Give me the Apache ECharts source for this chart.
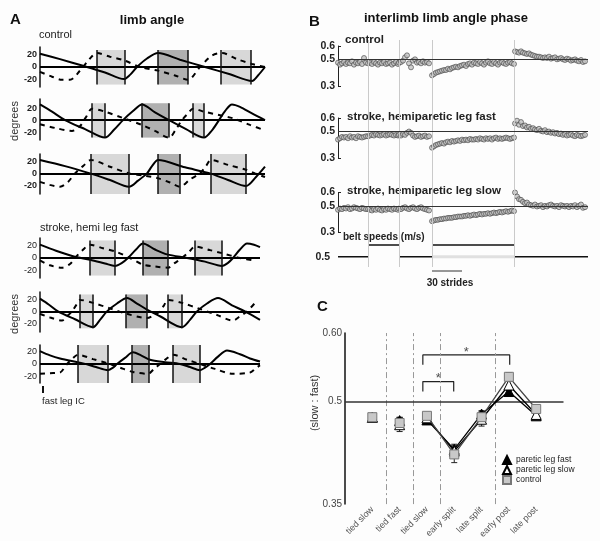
<!DOCTYPE html>
<html><head><meta charset="utf-8">
<script src="https://cdn.jsdelivr.net/npm/echarts@6.0.0/dist/echarts.min.js"></script>
<style>html,body{margin:0;padding:0;background:#fdfdfd}#c{width:600px;height:541px}</style>
</head><body><div id="c"></div>
<script>
// ================= DATA =================
// ---- Panel A: limb angle traces [time sample, degrees]; solid = one leg, dashed = other leg
const ctl1Solid  = [[40,22],[60,13],[83,2],[105,-9],[124,-20],[130,-13],[137,0],[147,14],[158,23],[180,12],[205,0],[230,-12],[252,-23],[258,-14],[265,0]];
const ctl1Dashed = [[40,-8],[52,-16],[62,-21],[70,-21],[80,-6],[90,14],[97,23],[110,17],[124,11],[140,0],[158,-6],[175,-14],[188,-21],[200,0],[212,19],[222,23],[237,13],[252,5],[265,0]];
const ctl2Solid  = [[40,26],[52,14],[65,0],[85,-15],[105,-29],[114,-16],[123,0],[133,15],[142,26],[155,13],[169,0],[186,-15],[204,-29],[212,-17],[219,0],[225,15],[232,26],[240,22],[252,11],[265,0]];
const ctl2Dashed = [[40,-7],[55,-13],[72,-18],[80,-10],[86,5],[92,19],[105,14],[122,4],[142,-8],[155,-18],[169,-29],[176,-15],[182,0],[188,11],[193,19],[204,14],[220,8],[233,3],[250,-8],[265,-17]];
const ctl3Solid  = [[40,22],[65,12],[90,0],[110,-11],[129,-22],[138,-12],[147,0],[152,12],[158,22],[185,10],[210,0],[228,-11],[246,-21],[256,-6],[265,11]];
const ctl3Dashed = [[40,-14],[50,-19],[60,-22],[68,-14],[75,0],[83,12],[91,22],[110,11],[129,0],[145,-4],[158,-8],[170,-15],[180,-22],[190,-10],[200,0],[206,12],[211,22],[228,14],[246,6],[255,0],[265,-6]];
const stk1Solid  = [[40,22],[56,12],[73,3],[90,-3],[105,-9],[115,-13],[122,-8],[128,0],[136,14],[143,24],[155,14],[167,6],[187,0],[205,-6],[222,-13],[228,-8],[233,0],[240,14],[247,24],[254,22],[260,18]];
const stk1Dashed = [[40,-4],[50,-12],[62,-16],[70,-10],[75,0],[82,12],[90,22],[103,16],[115,11],[130,0],[143,-11],[155,-14],[168,-16],[175,-8],[182,0],[189,10],[195,19],[210,13],[222,8],[240,0],[255,-4]];
const stk2Solid  = [[40,21],[49,11],[58,0],[75,-13],[93,-26],[100,-14],[107,0],[117,13],[127,22],[137,13],[147,3],[160,-8],[182,-26],[190,-14],[197,0],[207,13],[218,22],[232,10],[245,0],[260,-14]];
const stk2Dashed = [[40,-4],[50,-10],[62,-15],[67,-8],[72,0],[76,10],[80,19],[93,14],[110,5],[127,-4],[147,-11],[154,-6],[160,0],[164,10],[168,19],[182,14],[200,4],[217,-6],[233,-15],[240,-8],[247,0],[255,14]];
const stk3Solid  = [[40,21],[50,14],[60,9],[83,1],[96,-5],[108,-10],[113,-6],[117,0],[125,10],[133,19],[141,14],[150,7],[165,3],[180,0],[190,-5],[200,-10],[205,-6],[210,0],[218,12],[227,22],[240,16],[250,9],[260,4]];
const stk3Dashed = [[40,-16],[50,-15],[60,-14],[64,-7],[67,0],[72,8],[78,15],[93,8],[108,1],[120,-6],[133,-13],[148,-16],[154,-8],[160,0],[166,8],[173,15],[187,7],[200,0],[215,-8],[233,-16],[250,-14],[255,-8],[260,-2]];
// stance intervals [start, end] (the middle one is the other leg)
const ctl1Stance = [[97,125],[158,188],[221,251]];
const ctl2Stance = [[92,105],[142,169],[193,204]];
const ctl3Stance = [[91,129],[158,180],[211,246]];
const stk1Stance = [[90,115],[143,168],[195,222]];
const stk2Stance = [[80,93],[126,147],[168,182]];
const stk3Stance = [[78,108],[132,149],[173,200]];
const A_TICKS = [-20, 0, 20];

// ---- Panel B: interlimb phase per stride, 5 segments (tied slow, tied fast, tied slow, split, post)
const B_SEG_START = [0, 30, 61, 94, 177];
const B_BOUNDS = [0, 30, 61.5, 94, 176.5, 250];
const ctlPhase = [
 [0.475,0.46,0.47,0.48,0.465,0.475,0.47,0.485,0.46,0.475,0.47,0.48,0.465,0.51,0.475],
 [0.47,0.475,0.465,0.48,0.47,0.46,0.475,0.47,0.48,0.465,0.47,0.475,0.46,0.47,0.48,0.465],
 [0.475,0.48,0.49,0.515,0.53,0.47,0.44,0.49,0.5,0.475,0.48,0.47,0.485,0.475,0.48,0.47],
 [0.38,0.39,0.40,0.405,0.41,0.415,0.42,0.42,0.43,0.425,0.435,0.44,0.445,0.44,0.45,0.455,0.46,0.45,0.465,0.47,0.46,0.475,0.47,0.465,0.48,0.47,0.46,0.475,0.485,0.47,0.465,0.48,0.47,0.46,0.475,0.48,0.47,0.465,0.475,0.48,0.47,0.465],
 [0.56,0.555,0.55,0.56,0.55,0.545,0.54,0.545,0.535,0.53,0.525,0.52,0.52,0.515,0.51,0.515,0.51,0.52,0.505,0.51,0.515,0.5,0.505,0.51,0.5,0.495,0.505,0.5,0.49,0.495,0.5,0.49,0.485,0.495,0.48,0.485]
];
const fastPhase = [
 [0.44,0.45,0.46,0.455,0.46,0.45,0.465,0.455,0.46,0.45,0.465,0.46,0.455,0.46,0.465],
 [0.465,0.47,0.475,0.47,0.48,0.475,0.47,0.475,0.48,0.47,0.475,0.48,0.475,0.47,0.475,0.47],
 [0.475,0.47,0.48,0.475,0.49,0.5,0.49,0.47,0.46,0.465,0.47,0.46,0.465,0.47,0.46,0.465],
 [0.38,0.39,0.40,0.405,0.41,0.415,0.41,0.42,0.425,0.42,0.43,0.425,0.43,0.435,0.43,0.44,0.435,0.44,0.435,0.445,0.44,0.44,0.445,0.44,0.45,0.445,0.44,0.45,0.445,0.45,0.44,0.45,0.455,0.445,0.45,0.445,0.45,0.455,0.45,0.445,0.45,0.455],
 [0.56,0.58,0.55,0.57,0.54,0.545,0.53,0.535,0.52,0.525,0.515,0.51,0.52,0.505,0.5,0.51,0.495,0.5,0.49,0.495,0.485,0.49,0.48,0.485,0.475,0.48,0.47,0.475,0.48,0.47,0.465,0.475,0.47,0.465,0.47,0.475]
];
const slowPhase = [
 [0.47,0.48,0.475,0.485,0.48,0.49,0.475,0.48,0.49,0.485,0.48,0.475,0.485,0.48,0.475],
 [0.475,0.47,0.465,0.475,0.47,0.48,0.47,0.465,0.475,0.47,0.48,0.475,0.47,0.48,0.475,0.47],
 [0.48,0.475,0.485,0.49,0.48,0.475,0.485,0.49,0.48,0.475,0.485,0.49,0.48,0.475,0.47,0.465],
 [0.385,0.39,0.395,0.395,0.40,0.40,0.405,0.405,0.41,0.41,0.41,0.415,0.415,0.42,0.42,0.42,0.425,0.425,0.43,0.425,0.43,0.435,0.43,0.435,0.44,0.435,0.44,0.44,0.445,0.44,0.445,0.45,0.445,0.45,0.455,0.45,0.455,0.46,0.455,0.46,0.465,0.46],
 [0.60,0.57,0.55,0.545,0.53,0.52,0.525,0.51,0.505,0.5,0.51,0.495,0.5,0.505,0.49,0.5,0.495,0.505,0.51,0.5,0.495,0.5,0.49,0.505,0.5,0.495,0.5,0.49,0.5,0.495,0.505,0.49,0.5,0.51,0.485,0.49]
];
const beltFast = [0.5, 1.0, 0.5, 1.0, 0.5];
const beltSlow = [0.5, 1.0, 0.5, 0.5, 0.5];
const B_YTICKS = [0.3, 0.5, 0.6];
const STRIDE_BAR = [94, 124]; // 30 strides

// ---- Panel C: mean phase (slow : fast) per epoch
const C_CATS = ['tied slow','tied fast','tied slow','early split','late split','early post','late post'];
const C_X = [1,2,3,4,5,6,7];
const cFastVals = [0.477,0.472,0.473,0.430,0.4816,0.5145,0.479];
const cSlowVals = [0.477,0.466,0.476,0.4275,0.474,0.524,0.481];
const cCtlVals  = [0.477,0.4685,0.479,0.4226,0.477,0.536,0.489];
const cFastErr = [0.004,0.005,0.004,0.006,0.005,0.006,0.004];
const cSlowErr = [0.005,0.010,0.005,0.010,0.010,0.008,0.005];
const cCtlErr  = [0.005,0.008,0.004,0.012,0.008,0.006,0.004];
const C_YTICKS = [0.35, 0.5, 0.6];
const C_YLABELS = ['0.35', '0.5', '0.60'];
const C_SIG = [[2.85, 6.03, 0.568], [2.85, 3.98, 0.529]]; // [from, to, height]
const C_DIVIDERS = [1.5, 2.5, 3.5, 5.5];

// ================= LAYOUT / STYLE =================
const FONT = "'Liberation Sans', Arial, sans-serif";
const LIGHT = '#d8d8d8', DARK = '#b0b0b0';
const A_LAYOUT = [
 {top:47,  h:40, ymin:-33, ymax:33, xmax:265, bold:true,  lo:-29, hi:28},
 {top:99,  h:41, ymin:-33, ymax:35, xmax:265, bold:true,  lo:-29, hi:28},
 {top:154, h:40, ymin:-34, ymax:32, xmax:265, bold:true,  lo:-34, hi:32},
 {top:238, h:40, ymin:-33, ymax:33, xmax:260, bold:false, lo:-29, hi:29},
 {top:292, h:40, ymin:-34, ymax:32, xmax:260, bold:false, lo:-28, hi:28},
 {top:345, h:38, ymin:-31, ymax:31, xmax:260, bold:false, lo:-31, hi:31}
];
const A_DATA = [
 {solid:ctl1Solid, dashed:ctl1Dashed, stance:ctl1Stance},
 {solid:ctl2Solid, dashed:ctl2Dashed, stance:ctl2Stance},
 {solid:ctl3Solid, dashed:ctl3Dashed, stance:ctl3Stance},
 {solid:stk1Solid, dashed:stk1Dashed, stance:stk1Stance},
 {solid:stk2Solid, dashed:stk2Dashed, stance:stk2Stance},
 {solid:stk3Solid, dashed:stk3Dashed, stance:stk3Stance}
];
const B_ROWS = [
 {data:ctlPhase,  top:46,    h:40},
 {data:fastPhase, top:118,   h:40.5},
 {data:slowPhase, top:192.5, h:40}
];

const grid = [], xAxis = [], yAxis = [], series = [];
function addGrid(g, xa, ya) {
  const i = grid.length;
  grid.push(g);
  xAxis.push(Object.assign({gridIndex:i}, xa));
  yAxis.push(Object.assign({gridIndex:i}, ya));
  return i;
}
const ML = {silent:true, symbol:['none','none'], label:{show:false}, animation:false};

// ---- Panel A
A_DATA.forEach((d, k) => {
  const L = A_LAYOUT[k];
  const gi = addGrid({left:40, top:L.top, width:L.xmax-40, height:L.h},
    {type:'value', min:40, max:L.xmax, show:false},
    {type:'value', min:L.ymin, max:L.ymax,
     axisLine:{show:true, lineStyle:{color:'#111', width:1.5}}, axisTick:{show:false}, splitLine:{show:false},
     axisLabel:{customValues:A_TICKS, fontSize:9, fontWeight:L.bold?'bold':'normal', color:'#222', margin:3, fontFamily:FONT}});
  series.push({type:'line', xAxisIndex:gi, yAxisIndex:gi, data:d.solid, symbol:'none', lineStyle:{opacity:0}, z:1, silent:true,
    markArea:{silent:true, animation:false, data:d.stance.map((s,i)=>[{coord:[s[0],L.hi], itemStyle:{color:i===1?DARK:LIGHT}},{coord:[s[1],L.lo]}])}});
  const edges = [];
  d.stance.forEach(s => { edges.push([{coord:[s[0],L.lo]},{coord:[s[0],L.hi]}]); edges.push([{coord:[s[1],L.lo]},{coord:[s[1],L.hi]}]); });
  series.push({type:'line', xAxisIndex:gi, yAxisIndex:gi, data:d.solid, smooth:0.3, symbol:'none', z:3, silent:true,
    lineStyle:{color:'#000', width:2},
    markLine:Object.assign({}, ML, {lineStyle:{color:'#111', width:1.5, type:'solid'}, data:[{yAxis:0, lineStyle:{width:2, color:'#000'}}].concat(edges)})});
  series.push({type:'line', xAxisIndex:gi, yAxisIndex:gi, data:d.dashed, smooth:0.3, symbol:'none', z:4, silent:true,
    lineStyle:{color:'#000', width:2, type:[5,5]}});
});

// ---- Panel B
const frame = addGrid({left:338, top:40, width:250, height:227},
  {type:'value', min:0, max:250, show:false}, {type:'value', min:0, max:1, show:false});
series.push({type:'line', xAxisIndex:frame, yAxisIndex:frame, data:[[0,0.5]], symbol:'none', lineStyle:{opacity:0}, z:0, silent:true,
  markLine:Object.assign({}, ML, {lineStyle:{color:'#cacaca', width:1, type:'solid'}, data:B_BOUNDS.slice(1,5).map(x=>({xAxis:x}))})});

B_ROWS.forEach(row => {
  const gi = addGrid({left:338, top:row.top, width:250, height:row.h},
    {type:'value', min:0, max:250, show:false},
    {type:'value', min:0.3, max:0.6,
     axisLine:{show:true, lineStyle:{color:'#222', width:1}},
     axisTick:{show:true, inside:true, length:3, customValues:[0.3,0.6], lineStyle:{color:'#222'}},
     splitLine:{show:false},
     axisLabel:{customValues:B_YTICKS, formatter:v=>v.toFixed(1), fontSize:10.5, fontWeight:'bold', color:'#222', margin:3, fontFamily:FONT}});
  const pts = [];
  row.data.forEach((seg, s) => seg.forEach((v, j) => pts.push([B_SEG_START[s] + 2*j, v])));
  series.push({type:'line', xAxisIndex:gi, yAxisIndex:gi, data:[[0,0.5]], symbol:'none', lineStyle:{opacity:0}, z:1, silent:true,
    markLine:Object.assign({}, ML, {lineStyle:{color:'#333', width:1, type:'solid'}, data:[{yAxis:0.5}]})});
  series.push({type:'scatter', xAxisIndex:gi, yAxisIndex:gi, data:pts, symbol:'circle', symbolSize:5, z:3, silent:true,
    itemStyle:{color:'#c2c2c2', borderColor:'#444', borderWidth:0.8}});
});

// belt speeds
const belt = addGrid({left:338, top:240.3, width:250, height:21.1},
  {type:'value', min:0, max:250, show:false},
  {type:'value', min:0.3, max:1.2, axisLine:{show:false}, axisTick:{show:false}, splitLine:{show:false},
   axisLabel:{customValues:[0.5], formatter:v=>v.toFixed(1), fontSize:10.5, fontWeight:'bold', color:'#222', margin:8, fontFamily:FONT}});
beltFast.forEach((v, s) => {
  const x0 = B_BOUNDS[s], x1 = B_BOUNDS[s+1];
  if (beltSlow[s] !== v) {
    series.push({type:'line', xAxisIndex:belt, yAxisIndex:belt, data:[[x0,beltSlow[s]],[x1,beltSlow[s]]], symbol:'none', silent:true, z:2,
      lineStyle:{color:'#e0e0e0', width:3}});
  }
  series.push({type:'line', xAxisIndex:belt, yAxisIndex:belt, data:[[x0,v],[x1,v]], symbol:'none', silent:true, z:3,
    lineStyle:{color:'#111', width:1.6}});
});

// ---- Panel C
const cg = addGrid({left:345, top:333, width:218.5, height:172},
  {type:'value', min:0, max:8, axisLine:{show:false}, axisTick:{show:false}, splitLine:{show:false},
   axisLabel:{customValues:C_X, formatter:v=>C_CATS[Math.round(v)-1], rotate:45, fontSize:9, color:'#555', margin:4, fontFamily:FONT}},
  {type:'value', min:0.35, max:0.6, axisLine:{show:true, lineStyle:{color:'#111', width:1.5}}, axisTick:{show:false}, splitLine:{show:false},
   axisLabel:{customValues:C_YTICKS, formatter:v=>{let b=0; C_YTICKS.forEach((t,i)=>{if(Math.abs(t-v)<Math.abs(C_YTICKS[b]-v)) b=i;}); return C_YLABELS[b];},
     fontSize:10, color:'#444', margin:3, fontFamily:FONT}});

series.push({type:'line', xAxisIndex:cg, yAxisIndex:cg, data:[[0,0.5]], symbol:'none', lineStyle:{opacity:0}, z:1, silent:true,
  markLine:Object.assign({}, ML, {lineStyle:{color:'#999', width:1, type:[6,3,2,3]}, data:C_DIVIDERS.map(x=>({xAxis:x}))})});
series.push({type:'line', xAxisIndex:cg, yAxisIndex:cg, data:[[0,0.5]], symbol:'none', lineStyle:{opacity:0}, z:2, silent:true,
  markLine:Object.assign({}, ML, {lineStyle:{color:'#333', width:1.5, type:'solid'}, data:[{yAxis:0.5}]})});

function errSeries(vals, errs, z) {
  return {type:'custom', xAxisIndex:cg, yAxisIndex:cg, z:z, silent:true,
    data:C_X.map((x,i)=>[x, vals[i]-errs[i], vals[i]+errs[i]]),
    encode:{x:0, y:[1,2]},
    renderItem:(params, api) => {
      const x = api.value(0);
      const lo = api.coord([x, api.value(1)]), hi = api.coord([x, api.value(2)]);
      const w = 3, st = {stroke:'#222', lineWidth:1};
      return {type:'group', children:[
        {type:'line', shape:{x1:lo[0], y1:lo[1], x2:hi[0], y2:hi[1]}, style:st},
        {type:'line', shape:{x1:lo[0]-w, y1:lo[1], x2:lo[0]+w, y2:lo[1]}, style:st},
        {type:'line', shape:{x1:hi[0]-w, y1:hi[1], x2:hi[0]+w, y2:hi[1]}, style:st}]};
    }};
}
function cLine(name, vals, symbol, size, itemStyle, lineColor, z) {
  const data = [];
  C_X.forEach((x, i) => { data.push([x, vals[i]]); if (i < 2) data.push([x + 0.5, '-']); });
  return {type:'line', name:name, xAxisIndex:cg, yAxisIndex:cg, data:data, symbol:symbol, symbolSize:size, z:z, silent:true,
    itemStyle:itemStyle, lineStyle:{color:lineColor, width:1.3}, connectNulls:false};
}
series.push(errSeries(cFastVals, cFastErr, 5));
series.push(errSeries(cSlowVals, cSlowErr, 5));
series.push(errSeries(cCtlVals, cCtlErr, 5));
series.push(cLine('paretic leg fast', cFastVals, 'triangle', 10, {color:'#000', borderColor:'#000', borderWidth:1}, '#000', 6));
series.push(cLine('paretic leg slow', cSlowVals, 'triangle', 10, {color:'#fff', borderColor:'#000', borderWidth:1}, '#000', 7));
series.push(cLine('control', cCtlVals, 'rect', 9, {color:'#c8c8c8', borderColor:'#777', borderWidth:1}, '#444', 8));

C_SIG.forEach(([a, b, h]) => {
  series.push({type:'line', xAxisIndex:cg, yAxisIndex:cg, data:[[a,h-0.0145],[a,h],[b,h],[b,h-0.0145]], symbol:'none', silent:true, z:4,
    lineStyle:{color:'#222', width:1.2}});
});
series.push({type:'scatter', xAxisIndex:cg, yAxisIndex:cg, data:C_SIG.map(([a,b,h])=>[(a+b)/2, h+0.004]), symbolSize:1, silent:true, z:4,
  itemStyle:{color:'rgba(0,0,0,0)'}, label:{show:true, position:'inside', formatter:'*', fontSize:13, color:'#222', fontFamily:FONT}});

// ---- texts
function txt(text, x, y, o) {
  o = o || {};
  return {type:'text', x:x, y:y, rotation:o.rot||0, silent:true,
    style:{text:text, fontSize:o.size||11, fontWeight:o.bold?'bold':'normal', fontFamily:FONT, fill:o.color||'#111',
      align:o.align||'left', verticalAlign:'middle'}};
}
const graphic = [
  txt('A', 10, 20, {size:15, bold:true}),
  txt('limb angle', 152, 20, {size:13, bold:true, align:'center'}),
  txt('B', 309, 22, {size:15, bold:true}),
  txt('interlimb limb angle phase', 446, 18, {size:13, bold:true, align:'center'}),
  txt('C', 317, 307, {size:15, bold:true}),
  txt('control', 39, 35, {size:11, color:'#222'}),
  txt('stroke, hemi leg fast', 40, 228, {size:11, color:'#222'}),
  txt('degrees', 15, 121, {size:11, color:'#333', align:'center', rot:Math.PI/2}),
  txt('degrees', 15, 314, {size:11, color:'#333', align:'center', rot:Math.PI/2}),
  txt('fast leg IC', 42, 401, {size:9.5, color:'#222'}),
  {type:'line', silent:true, shape:{x1:43, y1:386, x2:43, y2:393}, style:{stroke:'#111', lineWidth:2}},
  txt('control', 345, 40, {size:11.5, bold:true, color:'#222'}),
  txt('stroke, hemiparetic leg fast', 347, 117, {size:11.5, bold:true, color:'#222'}),
  txt('stroke, hemiparetic leg slow', 347, 191, {size:11.5, bold:true, color:'#222'}),
  txt('belt speeds (m/s)', 343, 237, {size:10, bold:true, color:'#222'}),
  txt('30 strides', 450, 283, {size:10, bold:true, color:'#222', align:'center'}),
  txt('(slow : fast)', 315, 403, {size:11, color:'#333', align:'center', rot:Math.PI/2})
];

const chart = echarts.init(document.getElementById('c'), null, {renderer:'canvas', width:600, height:541});
chart.setOption({
  animation:false,
  backgroundColor:'#fdfdfd',
  textStyle:{fontFamily:FONT},
  grid:grid, xAxis:xAxis, yAxis:yAxis, series:series,
  legend:{orient:'vertical', left:502, top:455, padding:0, itemGap:0, itemWidth:8, itemHeight:8,
    textStyle:{fontSize:8.5, color:'#222', lineHeight:8.5, fontFamily:FONT}, selectedMode:false,
    data:[{name:'paretic leg fast', icon:'triangle'}, {name:'paretic leg slow', icon:'triangle'}, {name:'control', icon:'rect'}]},
  graphic:graphic
});
// 30-stride scale bar positioned through the stride axis of panel B
const p0 = chart.convertToPixel({gridIndex:belt}, [STRIDE_BAR[0], 0.5]);
const p1 = chart.convertToPixel({gridIndex:belt}, [STRIDE_BAR[1], 0.5]);
graphic.push({type:'line', silent:true, shape:{x1:p0[0], y1:271, x2:p1[0], y2:271}, style:{stroke:'#333', lineWidth:1}});
chart.setOption({graphic:graphic});
</script></body></html>
